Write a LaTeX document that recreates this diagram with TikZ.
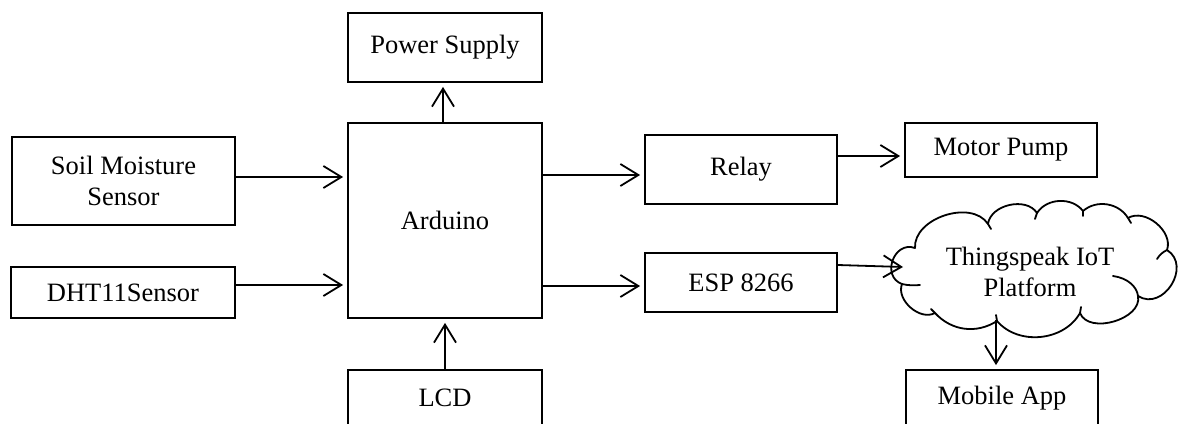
\documentclass[tikz,border=0pt]{standalone}
\usepackage{fontspec}
\setmainfont{Liberation Serif}
\usetikzlibrary{arrows.meta,calc}
\begin{document}
\begin{tikzpicture}[x=1pt,y=-1pt,
  lw/.style={line width=1.8pt},
  box/.style={draw,lw,inner sep=0pt,align=center,font=\fontsize{26.5}{31}\selectfont},
  tip/.style={-{Straight Barb[length=18pt,width=22pt]}},
  arr/.style={tip,lw,shorten >=4pt}]
\useasboundingbox (0,0) rectangle (1183,423);
\clip (0,0) rectangle (1183,423);
\node[box,minimum width=194pt,minimum height=69pt] (power) at (445,47.5) {Power Supply};
\node[box,minimum width=194pt,minimum height=195pt] (ard) at (445,220.5) {Arduino};
\node[box,minimum width=223pt,minimum height=88pt] (soil) at (123.5,181) {Soil Moisture\\Sensor};
\node[box,minimum width=224pt,minimum height=51pt] (dht) at (123,292.5) {DHT11Sensor};
\node[box,minimum width=192pt,minimum height=69pt] (relay) at (741,169.5) {Relay};
\node[box,minimum width=192pt,minimum height=59pt] (esp) at (741,282.5) {ESP 8266};
\node[box,minimum width=192pt,minimum height=54pt] (motor) at (1001,150) {Motor Pump};
\node[box,minimum width=194pt,minimum height=56pt] (lcd) at (445,398) {LCD};
\node[box,minimum width=192pt,minimum height=56pt] (mobile) at (1002,398) {Mobile App};
% cloud outline
\draw[lw,line join=round]
  (915,248) to[bend left=75] (988,224)
  to[bend left=70] (1037,213)
  to[bend left=55] (1083,211)
  to[bend left=50] (1128,218)
  to[bend left=70] (1167,250)
  to[bend left=90,looseness=1.4] (1138,296)
  to[bend left=85] (1080,313)
  to[bend left=55] (997,321)
  to[bend left=40] (935,313)
  to[bend left=70] (902,284)
  to[bend left=90,looseness=1.5] cycle;
% inner strokes of the cloud
\draw[lw,line cap=round]
  (1167,250) to[bend right=15] (1157,259)
  (1113,276) .. controls (1128,278) and (1137,287) .. (1138,296)
  (902,284) .. controls (908,285.5) and (914,285.5) .. (920,285)
  (997,321) -- (996,315)
  (1080,313) -- (1081,307)
  (935,313) -- (931,309)
  (988,224) -- (991,229)
  (1037,213) -- (1035,219)
  (1083,211) -- (1083,216)
  (1128,218) -- (1131,223);
\node[align=center,inner sep=0pt,font=\fontsize{26.5}{31}\selectfont] (cloud) at (1030,272) {Thingspeak IoT\\Platform};
\coordinate (cin) at (903,267);
\coordinate (cout) at (996,320);
% connectors
\draw[arr] ([xshift=-2pt]ard.north) -- ([xshift=-2pt]power.south);
\draw[arr] (lcd.north) -- (ard.south);
\draw[arr] ($(soil.east)+(0,-4)$) -- ($(soil.east -| ard.west)+(0,-4)$);
\draw[arr] ($(dht.east)+(0,-7.5)$) -- ($(dht.east -| ard.west)+(0,-7.5)$);
\draw[arr] ($(ard.east |- relay.west)+(0,5.5)$) -- ($(relay.west)+(0,5.5)$);
\draw[arr] ($(ard.east |- esp.west)+(0,3.5)$) -- ($(esp.west)+(0,3.5)$);
\draw[arr] ($(relay.east |- motor.west)+(0,6)$) -- ($(motor.west)+(0,6)$);
\draw[tip,lw] ($(esp.east)+(0,-17.5)$) -- (cin);
\draw[arr] (cout) -- (cout |- mobile.north);
\end{tikzpicture}
\end{document}
